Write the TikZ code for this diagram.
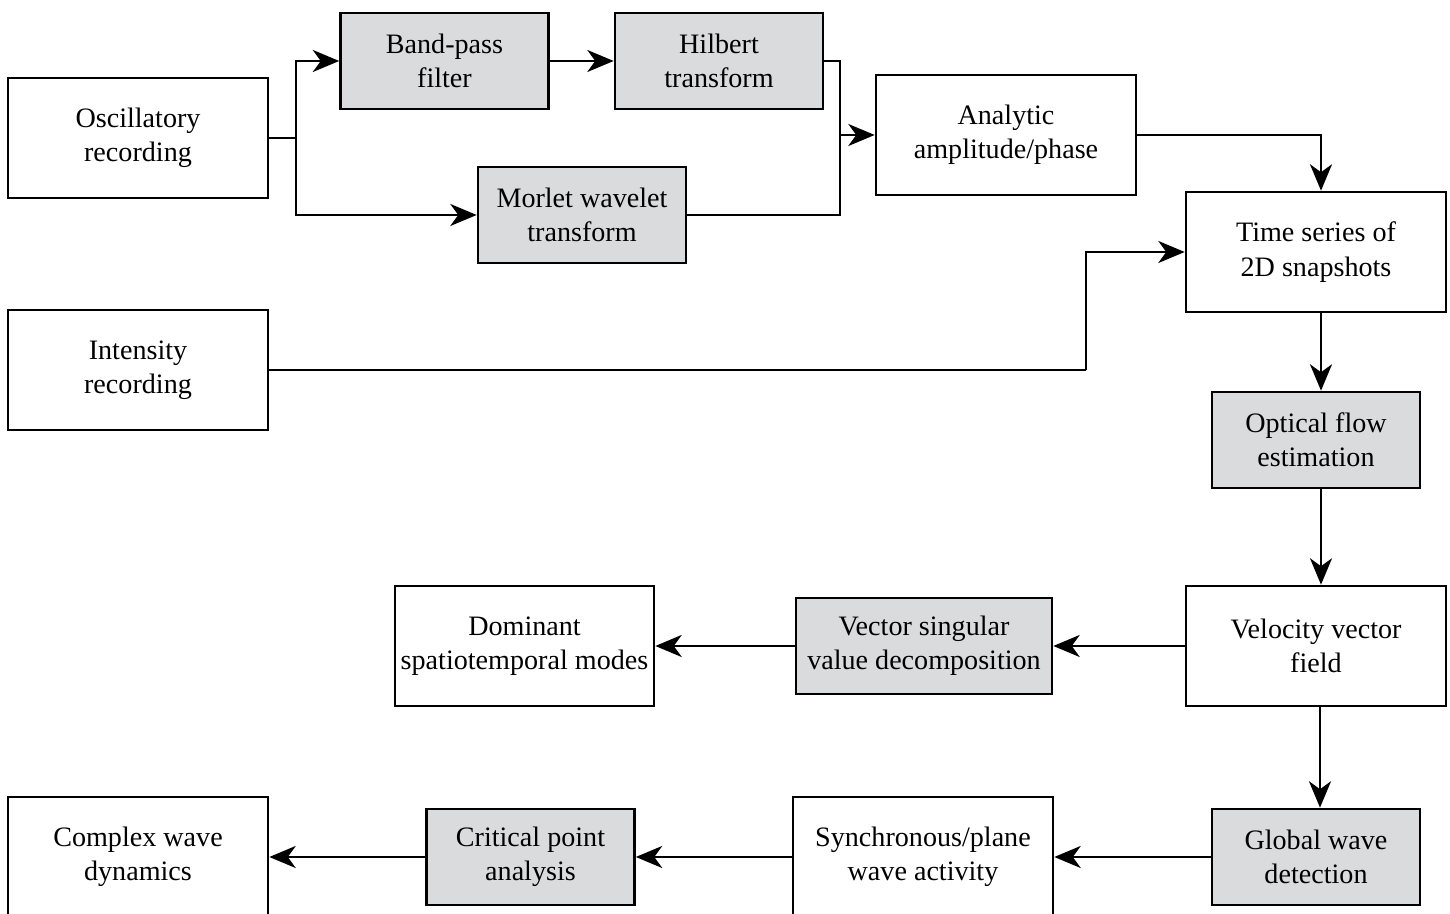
\documentclass[tikz,border=0pt]{standalone}
\usepackage{fontspec}
\setmainfont{Liberation Serif}
\usetikzlibrary{arrows.meta}
\definecolor{boxgray}{RGB}{218,219,221}
\tikzset{>={Stealth[length=15pt,width=12.5pt,inset=4.5pt]}}
\tikzset{
  wbox/.style={draw, line width=1.5pt, align=center, inner sep=2pt,
    minimum width=5.2cm, minimum height=2.4cm,
    font=\fontsize{16}{19.5}\selectfont},
  gbox/.style={wbox, fill=boxgray, minimum width=4.16cm, minimum height=1.92cm},
  link/.style={line width=1.6pt}
}

\begin{document}
\begin{tikzpicture}
\useasboundingbox (0,0) rectangle (29,18.28);
\clip (0,0) rectangle (29,18.28);
% first column of inputs
\node[wbox] (osc) at (2.76,15.52) {Oscillatory\\recording};
\node[wbox] (int) at (2.76,10.88) {Intensity\\recording};
\node[gbox] (bpf) at (8.89,17.06) {Band-pass\\filter};
\node[gbox] (hil) at (14.38,17.06) {Hilbert\\transform};
\node[gbox] (mor) at (11.64,13.98) {Morlet wavelet\\transform};
\node[wbox] (ana) at (20.12,15.58) {Analytic\\amplitude/phase};
\node[wbox] (ts) at (26.32,13.24) {Time series of\\2D snapshots};
\node[gbox] (of) at (26.32,9.48) {Optical flow\\estimation};
\node[wbox] (vel) at (26.32,5.36) {Velocity vector\\field};
\node[gbox, minimum width=5.12cm] (svd) at (18.48,5.36) {Vector singular\\value decomposition};
\node[wbox, minimum width=5.18cm] (dom) at (10.49,5.36) {Dominant\\spatiotemporal modes};
\node[gbox] (glo) at (26.32,1.14) {Global wave\\detection};
\node[wbox] (syn) at (18.46,1.14) {Synchronous/plane\\wave activity};
\node[gbox] (crit) at (10.61,1.14) {Critical point\\analysis};
\node[wbox] (cx) at (2.76,1.14) {Complex wave\\dynamics};

\coordinate (split) at (5.92,15.52);
\coordinate (merge) at (16.8,15.58);
\coordinate (bend) at (21.72,10.88);

\draw[link] (osc.east) -- (split);
\draw[link,->] (split) |- (bpf.west);
\draw[link,->] (split) |- (mor.west);
\draw[link,->] (bpf) -- (hil);
\draw[link] (hil.east) -| (merge);
\draw[link] (mor.east) -| (merge);
\draw[link,->] (merge) -- (ana.west);
\draw[link,->] (ana.east) -| ([xshift=0.1cm]ts.north);
\draw[link] (int.east) -- (bend);
\draw[link,->] (bend) |- (ts.west);
% main chain
\draw[link,->] ([xshift=0.1cm]ts.south) -- ([xshift=0.1cm]of.north);
\draw[link,->] ([xshift=0.1cm]of.south) -- ([xshift=0.1cm]vel.north);
\draw[link,->] (vel) -- (svd);
\draw[link,->] (svd) -- (dom);
\draw[link,->] ([xshift=0.08cm]vel.south) -- ([xshift=0.08cm]glo.north);
\draw[link,->] (glo) -- (syn);
\draw[link,->] (syn) -- (crit);
\draw[link,->] (crit) -- (cx);
\end{tikzpicture}
\end{document}
